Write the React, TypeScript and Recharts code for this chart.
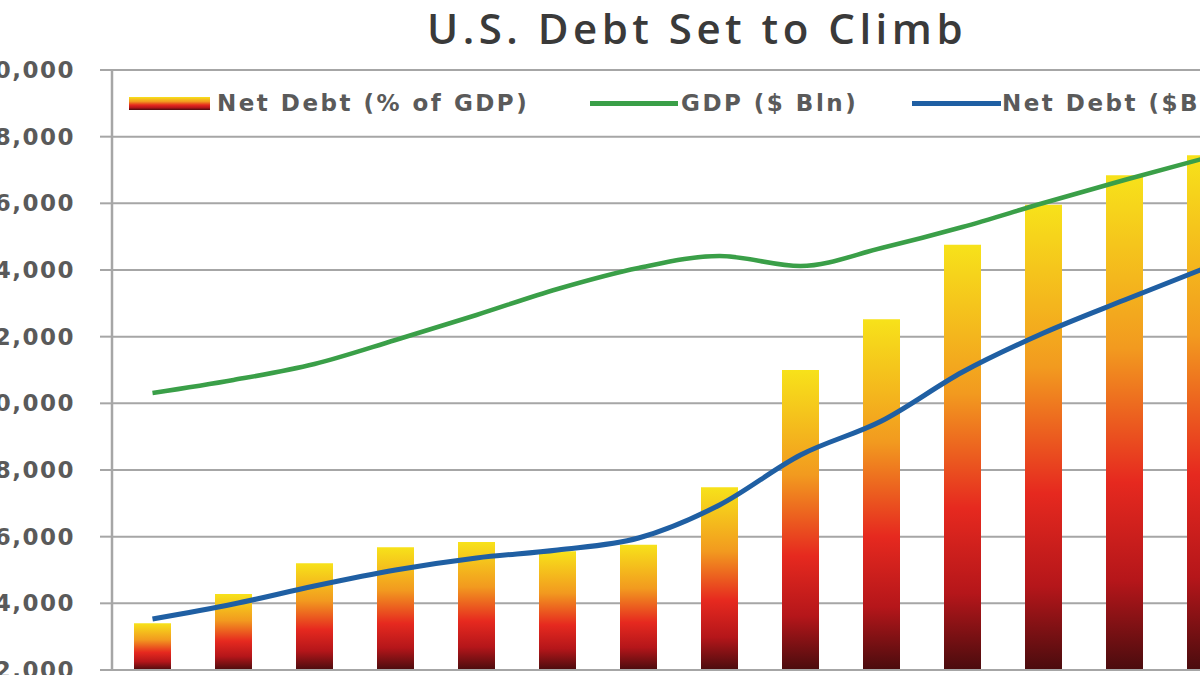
import React from 'react'
import {
  ComposedChart,
  Bar,
  Line,
  XAxis,
  YAxis,
  CartesianGrid,
} from 'recharts'

// years on the category axis (their labels fall below the visible crop)
const years = ['2001', '2002', '2003', '2004', '2005', '2006', '2007', '2008', '2009', '2010', '2011', '2012', '2013', '2014']
const netDebtPct = [33.5, 35.7, 38.0, 39.2, 39.6, 38.9, 39.4, 43.7, 52.5, 56.3, 61.9, 64.9, 67.1, 68.6]
const gdpBln = [10310, 10700, 11180, 11900, 12650, 13430, 14060, 14420, 14120, 14660, 15290, 16010, 16700, 17360]
const netDebtBln = [3530, 3980, 4520, 5000, 5360, 5600, 5960, 6950, 8450, 9470, 10940, 12110, 13100, 14060]
const leftTicks = [2000, 4000, 6000, 8000, 10000, 12000, 14000, 16000, 18000, 20000]
const rightTicks = [30, 35, 40, 45, 50, 55, 60, 65, 70, 75]

const data = years.map((year, i) => ({
  year,
  pct: netDebtPct[i],
  gdp: gdpBln[i],
  debt: netDebtBln[i],
}))

const GREEN = '#3a9f48'
const BLUE = '#1f5fa3'
const TEXT = '#5a5a5a'
const GRID = '#a6a6a6'
const FONT = '"DejaVu Sans", sans-serif'

const barGradient = 'linear-gradient(to bottom, #f7e21a 0%, #f29a1f 35%, #e6291f 62%, #b5161a 82%, #4a0c0e 100%)'

const legendText: React.CSSProperties = {
  position: 'absolute',
  top: 88,
  fontFamily: FONT,
  fontWeight: 'bold',
  fontSize: 23,
  letterSpacing: 2.5,
  color: TEXT,
  whiteSpace: 'nowrap',
  lineHeight: '30px',
}

function ChartLegend() {
  return (
    <>
      <div style={{ position: 'absolute', left: 129, top: 97, width: 81, height: 13, background: barGradient }} />
      <div style={{ ...legendText, left: 217 }}>Net Debt (% of GDP)</div>
      <div style={{ position: 'absolute', left: 590, top: 101, width: 88, height: 5, background: GREEN }} />
      <div style={{ ...legendText, left: 681 }}>GDP ($ Bln)</div>
      <div style={{ position: 'absolute', left: 912, top: 101, width: 89, height: 5, background: BLUE }} />
      <div style={{ ...legendText, left: 1002 }}>Net Debt ($Bln)</div>
    </>
  )
}

export default function App() {
  return (
    <div style={{ position: 'absolute', left: 0, top: 0, width: 1200, height: 675, overflow: 'hidden', background: '#fff' }}>
      <div
        style={{
          position: 'absolute',
          left: 0,
          width: 1394,
          top: 3,
          textAlign: 'center',
          fontFamily: '"Open Sans", sans-serif',
          fontWeight: 600,
          fontSize: 42,
          letterSpacing: 4.5,
          color: '#3a3a3a',
          lineHeight: '50px',
        }}
      >
        U.S. Debt Set to Climb
      </div>
      <div style={{ position: 'absolute', left: -120, top: 0 }}>
        <ComposedChart
          width={1446}
          height={760}
          data={data}
          margin={{ top: 70, right: 0, bottom: 50, left: 0 }}
          barCategoryGap={0}
        >
          <defs>
            <linearGradient id="barFill" x1="0" y1="0" x2="0" y2="1">
              <stop offset="0%" stopColor="#f7e21a" />
              <stop offset="35%" stopColor="#f29a1f" />
              <stop offset="62%" stopColor="#e6291f" />
              <stop offset="82%" stopColor="#b5161a" />
              <stop offset="100%" stopColor="#4a0c0e" />
            </linearGradient>
          </defs>
          <CartesianGrid vertical={false} stroke={GRID} strokeWidth={2} yAxisId="left" />
          <XAxis
            dataKey="year"
            height={40}
            axisLine={{ stroke: GRID, strokeWidth: 2 }}
            tickLine={false}
            tick={false}
          />
          <YAxis
            yAxisId="left"
            width={232}
            domain={[2000, 20000]}
            ticks={leftTicks}
            interval={0}
            tickFormatter={(v: number) => v.toLocaleString('en-US')}
            axisLine={{ stroke: GRID, strokeWidth: 2.5 }}
            tickLine={{ stroke: GRID, strokeWidth: 2 }}
            tickSize={12}
            tickMargin={25}
            tick={{ fontSize: 23, fill: TEXT, fontFamily: FONT, fontWeight: 'bold', letterSpacing: 1.5 }}
          />
          <YAxis
            yAxisId="right"
            orientation="right"
            width={80}
            domain={[30, 75]}
            ticks={rightTicks}
            interval={0}
            tickFormatter={(v: number) => `${v}%`}
            axisLine={false}
            tickLine={false}
            tick={{ fontSize: 22, fill: TEXT, fontFamily: FONT, fontWeight: 'bold' }}
          />
          <Bar yAxisId="right" dataKey="pct" barSize={37} fill="url(#barFill)" isAnimationActive={false} />
          <Line
            yAxisId="left"
            type="monotone"
            dataKey="gdp"
            stroke={GREEN}
            strokeWidth={4.5}
            dot={false}
            isAnimationActive={false}
          />
          <Line
            yAxisId="left"
            type="monotone"
            dataKey="debt"
            stroke={BLUE}
            strokeWidth={5}
            dot={false}
            isAnimationActive={false}
          />
        </ComposedChart>
      </div>
      <ChartLegend />
    </div>
  )
}
